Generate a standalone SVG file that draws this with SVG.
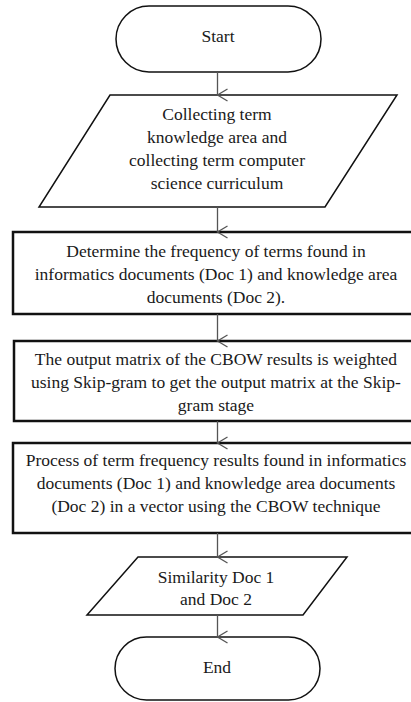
<svg xmlns="http://www.w3.org/2000/svg" width="411" height="702" viewBox="0 0 411 702">
<style>
text{font-family:'Liberation Serif','Times New Roman',serif;font-size:17.5px;fill:#1a1a1a;text-anchor:middle}
.term,.io{fill:#fff;stroke:#111;stroke-width:1.5}
.proc{fill:#fff;stroke:#111;stroke-width:2.5}
.conn line{stroke:#555;stroke-width:1.3}
</style>
<defs>
<marker id="arr" markerWidth="14" markerHeight="14" refX="7" refY="11" orient="auto" markerUnits="userSpaceOnUse" viewBox="0 0 14 14">
<path d="M1,1 L7,11 L13,1" fill="none" stroke="#555" stroke-width="1.3"/>
</marker>
</defs>
<rect width="411" height="702" fill="#fff"/>
<g id="start">
<rect class="term" x="116" y="6" width="205" height="66" rx="33"/>
<text x="218" y="42">Start</text>
</g>
<g id="collect">
<polygon class="io" points="110,95 397,95 325,207 39,207"/>
<text x="217" y="120">Collecting term</text>
<text x="217" y="143">knowledge area and</text>
<text x="217" y="166">collecting term computer</text>
<text x="217" y="189">science curriculum</text>
</g>
<g id="frequency">
<rect class="proc" x="13" y="232" width="408" height="82"/>
<text x="216" y="257">Determine the frequency of terms found in</text>
<text x="216" y="280">informatics documents (Doc 1) and knowledge area</text>
<text x="216" y="303">documents (Doc 2).</text>
</g>
<g id="skipgram">
<rect class="proc" x="14" y="341" width="408" height="80"/>
<text x="216" y="365">The output matrix of the CBOW results is weighted</text>
<text x="216" y="388">using Skip-gram to get the output matrix at the Skip-</text>
<text x="216" y="411">gram stage</text>
</g>
<g id="cbow">
<rect class="proc" x="13" y="443" width="408" height="90"/>
<text x="216" y="466">Process of term frequency results found in informatics</text>
<text x="216" y="489">documents (Doc 1) and knowledge area documents</text>
<text x="216" y="512">(Doc 2) in a vector using the CBOW technique</text>
</g>
<g id="similarity">
<polygon class="io" points="138,557 347,557 303,615 87,615"/>
<text x="216" y="583">Similarity Doc 1</text>
<text x="216" y="605">and Doc 2</text>
</g>
<g id="end">
<rect class="term" x="115" y="637" width="205" height="63" rx="31.5"/>
<text x="217" y="673">End</text>
</g>
<g class="conn">
<line x1="217.5" y1="72" x2="217.5" y2="95" marker-end="url(#arr)"/>
<line x1="217.5" y1="207" x2="217.5" y2="232" marker-end="url(#arr)"/>
<line x1="217.5" y1="314" x2="217.5" y2="341" marker-end="url(#arr)"/>
<line x1="217.5" y1="421" x2="217.5" y2="443" marker-end="url(#arr)"/>
<line x1="217.5" y1="533" x2="217.5" y2="557" marker-end="url(#arr)"/>
<line x1="217.5" y1="615" x2="217.5" y2="637" marker-end="url(#arr)"/>
</g>
</svg>
